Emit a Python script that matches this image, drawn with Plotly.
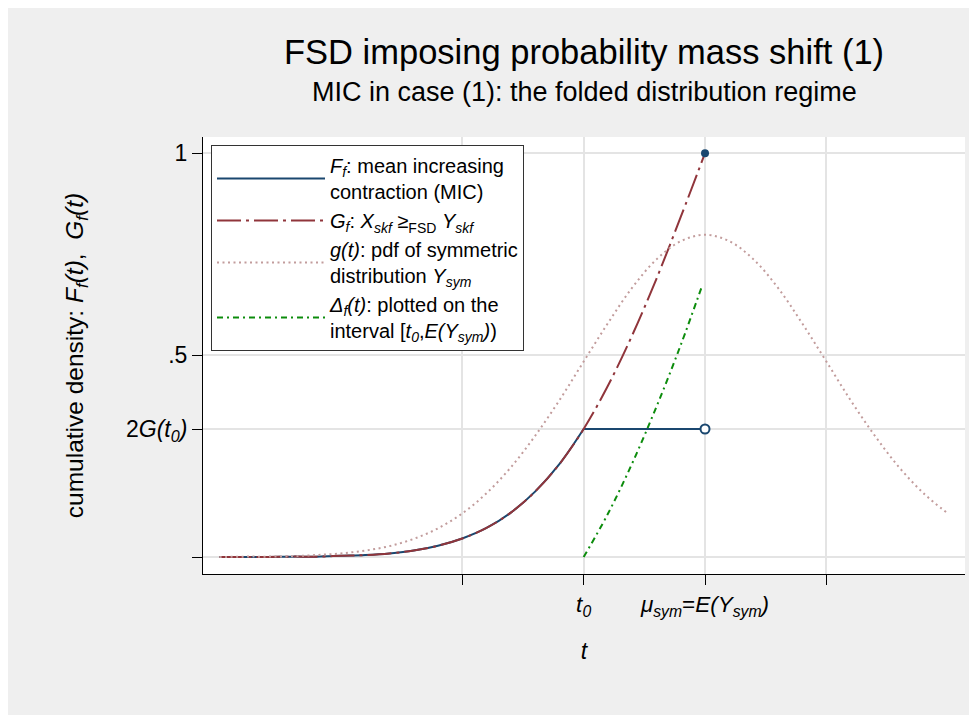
import plotly.graph_objects as go

FONT = "Liberation Sans, Arial, sans-serif"

t_grid = [-2.0, -1.9, -1.8, -1.7, -1.6, -1.5, -1.4, -1.3, -1.2, -1.1, -1.0,
          -0.9, -0.8, -0.7, -0.6, -0.5, -0.4, -0.3, -0.2, -0.1, 0.0,
          0.1, 0.2, 0.3, 0.4, 0.5, 0.6, 0.7, 0.8, 0.9, 1.0]
g_pdf = [0.000, 0.001, 0.001, 0.002, 0.005, 0.009, 0.016, 0.027, 0.045, 0.071, 0.108,
         0.158, 0.222, 0.300, 0.388, 0.484, 0.579, 0.667, 0.737, 0.782, 0.798,
         0.782, 0.737, 0.667, 0.579, 0.484, 0.388, 0.300, 0.222, 0.158, 0.108]

t_cdf = [-2.0, -1.9, -1.8, -1.7, -1.6, -1.5, -1.4, -1.3, -1.2, -1.1, -1.0,
         -0.9, -0.8, -0.7, -0.6, -0.5, -0.4, -0.3, -0.2, -0.1, 0.0]
G_f = [0.000, 0.000, 0.000, 0.001, 0.001, 0.003, 0.005, 0.009, 0.016, 0.028, 0.046,
       0.072, 0.110, 0.162, 0.230, 0.317, 0.424, 0.549, 0.689, 0.842, 1.000]

# F_f follows G_f up to t0, then stays flat until mu
t0 = -0.5
mu = 0.0
F_curve_t = t_cdf[:16]
F_curve = G_f[:16]
F_flat_t = [t0, mu]
F_flat = [0.317, 0.317]
F_at_mu = 1.0

t_delta = [-0.5, -0.4, -0.3, -0.2, -0.1, -0.01]
delta_f = [0.000, 0.107, 0.232, 0.372, 0.525, 0.675]

x_tickvals = [-1.0, t0, mu, 0.5]
x_ticktext = ["", "<i>t<sub>0</sub></i>", "<i>\u03bc<sub>sym</sub></i>=<i>E(Y<sub>sym</sub>)</i>", ""]
y_tickvals = [0.0, 0.317, 0.5, 1.0]
y_ticktext = ["", "2<i>G(t<sub>0</sub>)</i>", ".5", "1"]

NAVY = "#1a476f"
MAROON = "#90353b"
PINK = "#c29c9c"
GREEN = "#0c8c0c"

fig = go.Figure()

fig.add_trace(go.Scatter(
    x=F_curve_t, y=F_curve, mode="lines", line=dict(color=NAVY, width=2, shape="spline"),
    legendgroup="F", name="<i>F<sub>f</sub></i>: mean increasing<br>contraction (MIC)"))
fig.add_trace(go.Scatter(
    x=F_flat_t, y=F_flat, mode="lines", line=dict(color=NAVY, width=2),
    legendgroup="F", showlegend=False))
fig.add_trace(go.Scatter(
    x=t_cdf, y=G_f, mode="lines",
    line=dict(color=MAROON, width=2, shape="spline", dash="24px,5px,3px,5px"),
    name="<i>G<sub>f</sub></i>: <i>X<sub>skf</sub></i> \u2265<sub>FSD</sub> <i>Y<sub>skf</sub></i>"))
fig.add_trace(go.Scatter(
    x=t_grid, y=g_pdf, mode="lines",
    line=dict(color=PINK, width=2, shape="spline", dash="2px,3.5px"),
    name="<i>g(t)</i>: pdf of symmetric<br>distribution <i>Y<sub>sym</sub></i>"))
fig.add_trace(go.Scatter(
    x=t_delta, y=delta_f, mode="lines",
    line=dict(color=GREEN, width=2, shape="spline", dash="6px,4px,2px,4px"),
    name="<i>\u0394<sub>f</sub>(t)</i>: plotted on the<br>interval [<i>t<sub>0</sub></i>,<i>E(Y<sub>sym</sub>)</i>)"))
# end points at mu: open circle (excluded) and filled dot
fig.add_trace(go.Scatter(
    x=[mu], y=[F_flat[-1]], mode="markers", showlegend=False,
    marker=dict(size=9, color="white", line=dict(color=NAVY, width=2))))
fig.add_trace(go.Scatter(
    x=[mu], y=[F_at_mu], mode="markers", showlegend=False,
    marker=dict(size=8, color=NAVY)))

fig.update_layout(
    width=977, height=715,
    margin=dict(l=195, r=20, t=129, b=149),
    paper_bgcolor="#efefef",
    plot_bgcolor="white",
    font=dict(family=FONT, color="black", size=22),
    xaxis=dict(
        range=[-2.068, 1.071], tickmode="array", tickvals=x_tickvals, ticktext=x_ticktext,
        showgrid=True, gridcolor="#e4e4e4", gridwidth=1.5, zeroline=False,
        showline=True, linecolor="black", linewidth=1,
        ticks="outside", ticklen=10, tickcolor="black",
        tickfont=dict(size=22.5),
        title=dict(text="<i>t</i>", font=dict(size=23), standoff=24)),
    yaxis=dict(
        range=[-0.042, 1.040], tickmode="array", tickvals=y_tickvals, ticktext=y_ticktext,
        showgrid=True, gridcolor="#e4e4e4", gridwidth=1.5, zeroline=False,
        showline=True, linecolor="black", linewidth=1,
        ticks="outside", ticklen=10, tickcolor="black",
        tickfont=dict(size=23),
        title=dict(text="cumulative density: <i>F<sub>f</sub>(t)</i>,  <i>G<sub>f</sub>(t)</i>",
                   font=dict(size=24.5), standoff=35)),
    legend=dict(
        x=0.0105, y=0.9817, xanchor="left", yanchor="top",
        bgcolor="white", bordercolor="#333333", borderwidth=1,
        font=dict(size=20), itemwidth=108, tracegroupgap=0),
    annotations=[
        dict(text="FSD imposing probability mass shift (1)", xref="paper", yref="paper",
             x=0.5, y=1.1945, xanchor="center", yanchor="middle", showarrow=False,
             font=dict(size=34.5)),
        dict(text="MIC in case (1): the folded distribution regime", xref="paper", yref="paper",
             x=0.5, y=1.103, xanchor="center", yanchor="middle", showarrow=False,
             font=dict(size=27)),
    ],
)

fig.write_html("out.html")
